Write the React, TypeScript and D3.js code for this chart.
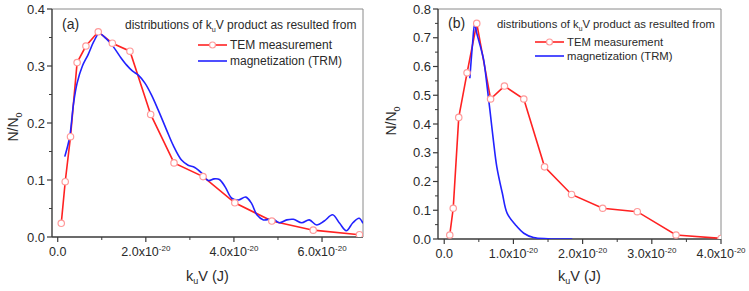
import React from "react";
import * as d3 from "d3";

// Panel (a) data, x in units of 1e-20 J
const temAX = [0.08, 0.17, 0.29, 0.44, 0.64, 0.92, 1.24, 1.64, 2.11, 2.64, 3.30, 4.02, 4.86, 5.80, 6.85];
const temAY = [0.024, 0.097, 0.176, 0.306, 0.335, 0.360, 0.340, 0.326, 0.215, 0.130, 0.106, 0.060, 0.028, 0.012, 0.004];
const trmAX = [0.16, 0.27, 0.36, 0.44, 0.56, 0.69, 0.82, 0.94, 1.1, 1.26, 1.42, 1.56, 1.70, 1.83, 1.98, 2.13, 2.28, 2.47, 2.62, 2.81, 2.96, 3.11, 3.27, 3.42, 3.55, 3.67, 3.80, 3.95, 4.10, 4.27, 4.40, 4.52, 4.67, 4.88, 5.03, 5.20, 5.35, 5.54, 5.71, 5.88, 6.05, 6.24, 6.40, 6.55, 6.70, 6.84, 6.93];
const trmAY = [0.141, 0.175, 0.235, 0.27, 0.30, 0.32, 0.343, 0.357, 0.348, 0.334, 0.316, 0.302, 0.291, 0.284, 0.270, 0.249, 0.223, 0.188, 0.161, 0.135, 0.126, 0.122, 0.112, 0.099, 0.102, 0.101, 0.088, 0.068, 0.065, 0.070, 0.059, 0.039, 0.030, 0.032, 0.025, 0.030, 0.031, 0.025, 0.030, 0.021, 0.028, 0.039, 0.024, 0.011, 0.025, 0.033, 0.024];

// Panel (b) data
const temBX = [0.08, 0.13, 0.21, 0.33, 0.47, 0.67, 0.87, 1.15, 1.45, 1.84, 2.29, 2.79, 3.35, 4.0];
const temBY = [0.014, 0.107, 0.423, 0.578, 0.750, 0.487, 0.532, 0.487, 0.251, 0.155, 0.107, 0.095, 0.014, 0.002];
const trmBX = [0.37, 0.41, 0.44, 0.47, 0.53, 0.57, 0.62, 0.66, 0.71, 0.76, 0.84, 0.91, 1.03, 1.15, 1.29, 1.5, 1.85];
const trmBY = [0.559, 0.681, 0.748, 0.716, 0.663, 0.623, 0.530, 0.449, 0.344, 0.251, 0.159, 0.089, 0.049, 0.020, 0.005, 0.001, 0.0];

const xTicksA = [0, 2, 4, 6];
const xMinorA = [1, 3, 5];
const yTicksA = [0, 0.1, 0.2, 0.3, 0.4];
const yMinorA = [0.05, 0.15, 0.25, 0.35];
const xTicksB = [0, 1, 2, 3, 4];
const xMinorB = [0.5, 1.5, 2.5, 3.5];
const yTicksB = [0, 0.1, 0.2, 0.3, 0.4, 0.5, 0.6, 0.7, 0.8];
const yMinorB = [0.05, 0.15, 0.25, 0.35, 0.45, 0.55, 0.65, 0.75];

const legendTitle = "distributions of k";
const legendTitleRest = "V product as resulted from";
const seriesNames = ["TEM measurement", "magnetization (TRM)"];

const FONT = "'Liberation Sans', Arial, sans-serif";
const RED = "#ff2222";
const BLUE = "#2222ff";
const MARK = "#ff9a9a";
const AXIS = "#3a3a3a";
const TEXT = "#2a2a2a";

type PanelProps = {
  id: string;
  label: string;
  xDomain: [number, number];
  xRange: [number, number];
  yDomain: [number, number];
  yRange: [number, number];
  xTicks: number[];
  xMinor: number[];
  yTicks: number[];
  yMinor: number[];
  temX: number[];
  temY: number[];
  trmX: number[];
  trmY: number[];
  legendFont: number;
  titleX: number;
  titleY: number;
  legX: number;
  legY1: number;
  legY2: number;
  ylabelX: number;
  ylabelY: number;
};

function Panel(p: PanelProps) {
  const x = d3.scaleLinear().domain(p.xDomain).range(p.xRange);
  const y = d3.scaleLinear().domain(p.yDomain).range(p.yRange);
  const [x0, x1] = p.xRange;
  const [yb, yt] = p.yRange;
  const temPts: [number, number][] = p.temX.map((v, i) => [v, p.temY[i]]);
  const trmPts: [number, number][] = p.trmX.map((v, i) => [v, p.trmY[i]]);
  const lineLin = d3.line<[number, number]>().x(d => x(d[0])).y(d => y(d[1]));
  const lineSmooth = d3.line<[number, number]>().x(d => x(d[0])).y(d => y(d[1])).curve(d3.curveCatmullRom.alpha(0.5));
  const fmtY = d3.format(".1f");
  const clipId = `clip-${p.id}`;
  return (
    <g>
      <defs>
        <clipPath id={clipId}>
          <rect x={x0} y={yt} width={x1 - x0} height={yb - yt} />
        </clipPath>
      </defs>
      {/* frame */}
      <line x1={x0} x2={x1} y1={yt} y2={yt} stroke="#8a8a8a" strokeWidth={1} />
      <line x1={x1} x2={x1} y1={yt} y2={yb} stroke="#8a8a8a" strokeWidth={1} />
      <line x1={x0} x2={x0} y1={yt} y2={yb} stroke={AXIS} strokeWidth={1.4} />
      <line x1={x0} x2={x1} y1={yb} y2={yb} stroke={AXIS} strokeWidth={1.4} />
      {/* x ticks */}
      {p.xTicks.map(t => (
        <g key={"xt" + t}>
          <line x1={x(t)} x2={x(t)} y1={yb} y2={yb + 5} stroke={AXIS} strokeWidth={1.2} />
          <text x={x(t)} y={yb + 19} textAnchor="middle" fontSize={12.5} fill={TEXT} fontFamily={FONT}>
            {t === 0 ? "0.0" : (
              <>
                {t.toFixed(1) + "x10"}
                <tspan dy={-5} fontSize={8}>-20</tspan>
              </>
            )}
          </text>
        </g>
      ))}
      {p.xMinor.map(t => (
        <line key={"xm" + t} x1={x(t)} x2={x(t)} y1={yb} y2={yb + 3} stroke={AXIS} strokeWidth={1} />
      ))}
      {/* y ticks */}
      {p.yTicks.map(t => (
        <g key={"yt" + t}>
          <line x1={x0 - 5} x2={x0} y1={y(t)} y2={y(t)} stroke={AXIS} strokeWidth={1.2} />
          <text x={x0 - 7} y={y(t) + 4.5} textAnchor="end" fontSize={13} fill={TEXT} fontFamily={FONT}>{fmtY(t)}</text>
        </g>
      ))}
      {p.yMinor.map(t => (
        <line key={"ym" + t} x1={x0 - 3} x2={x0} y1={y(t)} y2={y(t)} stroke={AXIS} strokeWidth={1} />
      ))}
      {/* axis titles */}
      <text transform={`translate(${p.ylabelX},${p.ylabelY}) rotate(-90)`} textAnchor="middle" fontSize={14} fill={TEXT} fontFamily={FONT}>
        N/N<tspan dy={4} fontSize={9}>0</tspan>
      </text>
      <text x={(x0 + x1) / 2} y={281} textAnchor="middle" fontSize={14.5} fill={TEXT} fontFamily={FONT}>
        k<tspan dy={3} fontSize={9}>u</tspan><tspan dy={-3}>V (J)</tspan>
      </text>
      {/* data */}
      <g clipPath={`url(#${clipId})`}>
        <path d={lineLin(temPts) || ""} fill="none" stroke={RED} strokeWidth={1.6} />
        <path d={lineSmooth(trmPts) || ""} fill="none" stroke={BLUE} strokeWidth={1.6} />
        {temPts.map((d, i) => (
          <circle key={"m" + i} cx={x(d[0])} cy={y(d[1])} r={3.2} fill="#fff" stroke={MARK} strokeWidth={1.2} />
        ))}
      </g>
      {/* panel label and legend */}
      <text x={x0 + 10} y={p.titleY} fontSize={14} fill={TEXT} fontFamily={FONT}>{p.label}</text>
      <text x={p.titleX} y={p.titleY} fontSize={p.legendFont} fill={TEXT} fontFamily={FONT}>
        {legendTitle}<tspan dy={3} fontSize={p.legendFont * 0.6}>u</tspan><tspan dy={-3}>{legendTitleRest}</tspan>
      </text>
      <line x1={p.legX} x2={p.legX + 29} y1={p.legY1} y2={p.legY1} stroke={RED} strokeWidth={1.6} />
      <circle cx={p.legX + 14.5} cy={p.legY1} r={3} fill="#fff" stroke={MARK} strokeWidth={1.2} />
      <text x={p.legX + 32} y={p.legY1 + 4} fontSize={p.legendFont} fill={TEXT} fontFamily={FONT}>{seriesNames[0]}</text>
      <line x1={p.legX} x2={p.legX + 29} y1={p.legY2} y2={p.legY2} stroke={BLUE} strokeWidth={1.6} />
      <text x={p.legX + 32} y={p.legY2 + 4} fontSize={p.legendFont} fill={TEXT} fontFamily={FONT}>{seriesNames[1]}</text>
    </g>
  );
}

export default function App() {
  return (
    <svg width={749} height={291} style={{ position: "absolute", left: 0, top: 0, background: "#fff" }}>
      <rect x={0} y={0} width={749} height={291} fill="#fff" />
      <Panel
        id="a" label="(a)"
        xDomain={[-0.13, 6.93]} xRange={[52, 363]}
        yDomain={[0, 0.4]} yRange={[237, 9]}
        xTicks={xTicksA} xMinor={xMinorA} yTicks={yTicksA} yMinor={yMinorA}
        temX={temAX} temY={temAY} trmX={trmAX} trmY={trmAY}
        legendFont={12} titleX={125} titleY={29}
        legX={198} legY1={45} legY2={61}
        ylabelX={18} ylabelY={127}
      />
      <Panel
        id="b" label="(b)"
        xDomain={[-0.09, 4.0]} xRange={[438, 721]}
        yDomain={[0, 0.8]} yRange={[239, 9]}
        xTicks={xTicksB} xMinor={xMinorB} yTicks={yTicksB} yMinor={yMinorB}
        temX={temBX} temY={temBY} trmX={trmBX} trmY={trmBY}
        legendFont={11.3} titleX={497} titleY={28}
        legX={535} legY1={42} legY2={56}
        ylabelX={396} ylabelY={121}
      />
    </svg>
  );
}
